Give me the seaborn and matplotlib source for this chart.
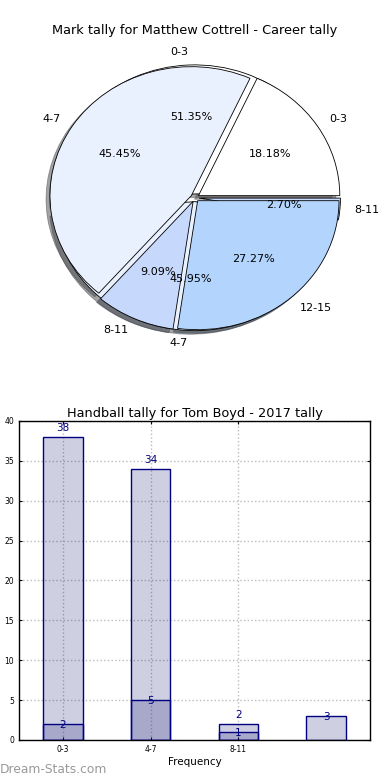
import matplotlib
matplotlib.use("Agg")
import matplotlib.pyplot as plt
import seaborn as sns

# pie data
career_labels = ["0-3", "4-7", "8-11"]
career_marks = [19, 17, 1]
season_labels = ["0-3", "4-7", "8-11", "12-15"]
season_marks = [2, 5, 1, 3]

# bar data
bar_cats = ["0-3", "4-7", "8-11", "12-15"]
career_handballs = [38, 34, 2]
season_handballs = [2, 5, 1, 3]

pie_colors = ["#ffffff", "#eaf1fe", "#c6d9fd", "#b3d5fd"]

sns.set_style("ticks")
plt.rcParams['font.family'] = ['DejaVu Sans']
plt.rcParams['text.color'] = 'black'
plt.rcParams['axes.labelcolor'] = 'black'
plt.rcParams['xtick.color'] = 'black'
plt.rcParams['ytick.color'] = 'black'

fig = plt.figure(figsize=(3.9, 7.8), dpi=100)

## PIE
ax1 = fig.add_axes([0.0467, 0.5397, 0.906, 0.4135])
ax1.pie(career_marks, labels=career_labels, colors=pie_colors,
        explode=[0.03] * len(career_marks), autopct='%.2f%%', shadow=True,
        wedgeprops=dict(edgecolor='black', linewidth=0.6),
        textprops=dict(fontsize=8, color='black'))
ax1.pie(season_marks, labels=season_labels, colors=pie_colors,
        explode=[0.03] * len(season_marks), autopct='%.2f%%', shadow=True,
        wedgeprops=dict(edgecolor='black', linewidth=0.6),
        textprops=dict(fontsize=8, color='black'))
ax1.set_aspect('auto')
ax1.set_xlim(-1.25, 1.25)
ax1.set_ylim(-1.25, 1.25)
fig.text(0.5, 0.961, "Mark tally for Matthew Cottrell - Career tally",
         ha='center', va='center', fontsize=9.3)

## BARS
ax2 = fig.add_axes([0.0487, 0.0513, 0.9, 0.409])
sns.barplot(x=bar_cats[:len(career_handballs)], y=career_handballs,
            order=bar_cats, color='navy', alpha=0.2, width=0.45,
            edgecolor='none', ax=ax2, zorder=2)
sns.barplot(x=bar_cats, y=season_handballs, order=bar_cats,
            color='navy', alpha=0.2, width=0.45, edgecolor='none',
            ax=ax2, zorder=2)
# crisp navy outlines
for p in list(ax2.patches):
    ax2.add_patch(plt.Rectangle(p.get_xy(), p.get_width(), p.get_height(),
                                fill=False, edgecolor='navy', linewidth=1,
                                zorder=3))

for i, v in enumerate(career_handballs):
    ax2.text(i, v + 0.5, str(v), ha='center', va='bottom', color='navy',
             fontsize=7.5)
for i, v in enumerate(season_handballs):
    ax2.text(i, v - 0.7, str(v), ha='center', va='bottom', color='navy',
             fontsize=7.5)

ax2.set_xlim(-0.5, 3.5)
ax2.set_ylim(0, 40)
ax2.set_xticks(range(len(career_handballs)))
ax2.set_xticklabels(bar_cats[:len(career_handballs)])
ax2.set_yticks(range(0, 41, 5))
ax2.tick_params(labelsize=5.5, length=2, direction='in', top=True, right=True)
ax2.grid(True, linestyle=':', color='#bbbbbb', linewidth=1)
ax2.set_axisbelow(True)
for s in ax2.spines.values():
    s.set_color('black')
    s.set_linewidth(1)
ax2.set_xlabel("Frequency", fontsize=7.5, labelpad=2)
ax2.set_title("Handball tally for Tom Boyd - 2017 tally", fontsize=9.3,
              pad=3)

fig.text(0.0, 0.013, "Dream-Stats.com", fontsize=8.8, color='#999999',
         ha='left', va='center')

fig.savefig("out.png", dpi=100)
